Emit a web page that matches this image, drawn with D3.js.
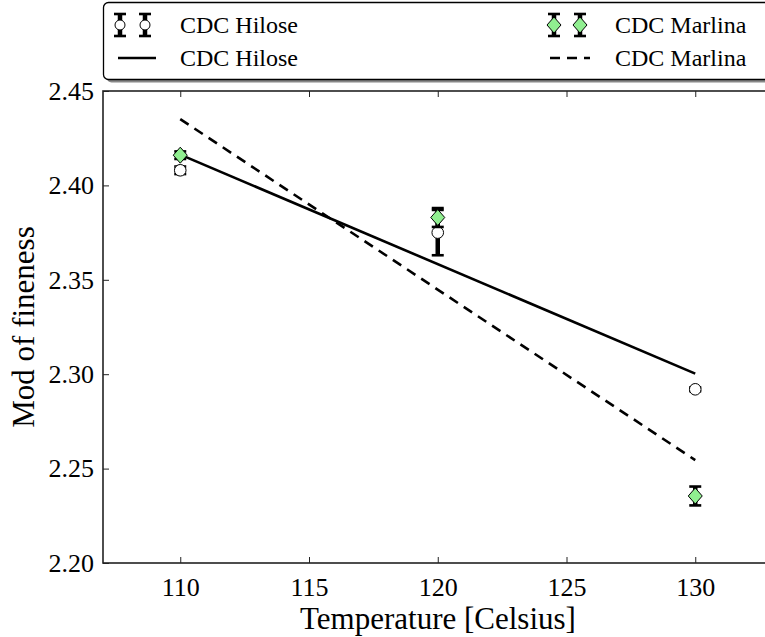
<!DOCTYPE html>
<html>
<head>
<meta charset="utf-8">
<script src="https://cdn.jsdelivr.net/npm/d3@7"></script>
<style>
  body { margin: 0; background: #fff; }
  svg { display: block; overflow: hidden; }
  text { font-family: "Liberation Serif", "DejaVu Serif", serif; fill: #000; }
</style>
</head>
<body>
<div id="chart"></div>
<script>
// data
var temps = [110, 120, 130];
var hiloseVals = [2.408, 2.375, 2.292];
var hiloseErr = [0.002, 0.012, 0.001];
var marlinaVals = [2.416, 2.383, 2.2355];
var marlinaErr = [0.002, 0.005, 0.005];
var fitTemps = [110, 130];
var hiloseFit = [2.4163, 2.3003];
var marlinaFit = [2.4351, 2.2545];
var xTicks = [110, 115, 120, 125, 130];
var yTicks = [2.20, 2.25, 2.30, 2.35, 2.40, 2.45];

var W = 765, H = 637;
var margin = { top: 91, left: 103, bottom: 563 };

var svg = d3.select("#chart").append("svg")
    .attr("width", W)
    .attr("height", H);

var x = d3.scaleLinear().domain([107, 133]).range([margin.left, margin.left + 26 * 25.75]);
var y = d3.scaleLinear().domain([2.20, 2.45]).range([margin.bottom, margin.top]);
var xRight = x(133);

// axes, ticks pointing inward
var xAxis = d3.axisBottom(x).tickValues(xTicks).tickSize(-6).tickSizeOuter(0).tickPadding(15);
var yAxis = d3.axisLeft(y).tickValues(yTicks).tickSize(-6).tickSizeOuter(0).tickPadding(9)
    .tickFormat(d3.format(".2f"));
var xTop = d3.axisTop(x).tickValues(xTicks).tickSize(-6).tickSizeOuter(0).tickFormat("");
var yRight = d3.axisRight(y).tickValues(yTicks).tickSize(-6).tickSizeOuter(0).tickFormat("");

function styleAxis(g) {
    g.select(".domain").remove();
    g.selectAll(".tick line").attr("stroke", "#222").attr("stroke-width", 1);
    g.selectAll(".tick text")
        .style("font-size", "26px")
        .style("font-family", "'Liberation Serif', serif")
        .attr("fill", "#000");
}

svg.append("g").attr("transform", "translate(0," + margin.bottom + ")").call(xAxis).call(styleAxis);
svg.append("g").attr("transform", "translate(" + margin.left + ",0)").call(yAxis).call(styleAxis);
svg.append("g").attr("transform", "translate(0," + margin.top + ")").call(xTop).call(styleAxis);
svg.append("g").attr("transform", "translate(" + xRight + ",0)").call(yRight).call(styleAxis);

svg.append("rect")
    .attr("x", margin.left).attr("y", margin.top)
    .attr("width", xRight - margin.left).attr("height", margin.bottom - margin.top)
    .attr("fill", "none").attr("stroke", "#222").attr("stroke-width", 1.6);

// axis titles
svg.append("text")
    .attr("x", 438)
    .attr("y", 629)
    .attr("text-anchor", "middle")
    .style("font-size", "31px")
    .text("Temperature [Celsius]");

svg.append("text")
    .attr("transform", "translate(34," + (margin.top + margin.bottom) / 2 + ") rotate(-90)")
    .attr("text-anchor", "middle")
    .style("font-size", "31px")
    .text("Mod of fineness");

// fit lines
var line = d3.line().x((d) => x(d[0])).y((d) => y(d[1]));

svg.append("path")
    .datum(fitTemps.map((t, i) => [t, hiloseFit[i]]))
    .attr("d", line)
    .attr("fill", "none")
    .attr("stroke", "#000")
    .attr("stroke-width", 2.6);

svg.append("path")
    .datum(fitTemps.map((t, i) => [t, marlinaFit[i]]))
    .attr("d", line)
    .attr("fill", "none")
    .attr("stroke", "#000")
    .attr("stroke-width", 2.6)
    .attr("stroke-dasharray", "10,7");

// error bars
var errorBar = function (g, cx, y0, y1) {
    g.append("line")
        .attr("x1", cx).attr("x2", cx)
        .attr("y1", y0).attr("y2", y1)
        .attr("stroke", "#000").attr("stroke-width", 4.5);
    for (const yy of [y0, y1]) {
        g.append("line")
            .attr("x1", cx - 6).attr("x2", cx + 6)
            .attr("y1", yy).attr("y2", yy)
            .attr("stroke", "#000").attr("stroke-width", 2.6);
    }
};

var diamond = function (g, cx, cy) {
    g.append("path")
        .attr("d", "M" + cx + "," + (cy - 8) + "L" + (cx + 7) + "," + cy + "L" + cx + "," + (cy + 8) + "L" + (cx - 7) + "," + cy + "Z")
        .attr("fill", "#90ee90")
        .attr("stroke", "#000")
        .attr("stroke-width", 1);
};

var circle = function (g, cx, cy, r) {
    g.append("circle")
        .attr("cx", cx).attr("cy", cy).attr("r", r || 5.8)
        .attr("fill", "#fff")
        .attr("stroke", "#000")
        .attr("stroke-width", 1);
};

var pts = svg.append("g");
temps.forEach((t, i) => {
    errorBar(pts, x(t), y(hiloseVals[i] + hiloseErr[i]), y(hiloseVals[i] - hiloseErr[i]));
    circle(pts, x(t), y(hiloseVals[i]));
});
temps.forEach((t, i) => {
    errorBar(pts, x(t), y(marlinaVals[i] + marlinaErr[i]), y(marlinaVals[i] - marlinaErr[i]));
    diamond(pts, x(t), y(marlinaVals[i]));
});

// legend
var leg = svg.append("g");
leg.append("rect")
    .attr("x", 106.5).attr("y", 5.5)
    .attr("width", 700).attr("height", 77)
    .attr("rx", 5)
    .attr("fill", "#888");
leg.append("rect")
    .attr("x", 103.5).attr("y", 2.5)
    .attr("width", 700).attr("height", 77)
    .attr("rx", 5)
    .attr("fill", "#fff")
    .attr("stroke", "#000")
    .attr("stroke-width", 1.3);

var row1 = 25, row2 = 58;
for (const lx of [120, 145]) {
    errorBar(leg, lx, row1 - 11, row1 + 11);
    circle(leg, lx, row1, 5);
}
for (const lx of [554, 580]) {
    errorBar(leg, lx, row1 - 11, row1 + 11);
    diamond(leg, lx, row1);
}
leg.append("line")
    .attr("x1", 118).attr("x2", 156)
    .attr("y1", row2).attr("y2", row2)
    .attr("stroke", "#000").attr("stroke-width", 2.6);
leg.append("line")
    .attr("x1", 550).attr("x2", 590)
    .attr("y1", row2).attr("y2", row2)
    .attr("stroke", "#000").attr("stroke-width", 2.6)
    .attr("stroke-dasharray", "10,7");

var legendText = [
    { x: 180, y: row1, t: "CDC Hilose" },
    { x: 180, y: row2, t: "CDC Hilose" },
    { x: 615, y: row1, t: "CDC Marlina" },
    { x: 615, y: row2, t: "CDC Marlina" }
];
leg.selectAll("text.lt")
    .data(legendText)
    .enter()
    .append("text")
    .attr("class", "lt")
    .attr("x", (d) => d.x)
    .attr("y", (d) => d.y)
    .attr("dy", "0.35em")
    .style("font-size", "24px")
    .text((d) => d.t);
</script>
</body>
</html>
